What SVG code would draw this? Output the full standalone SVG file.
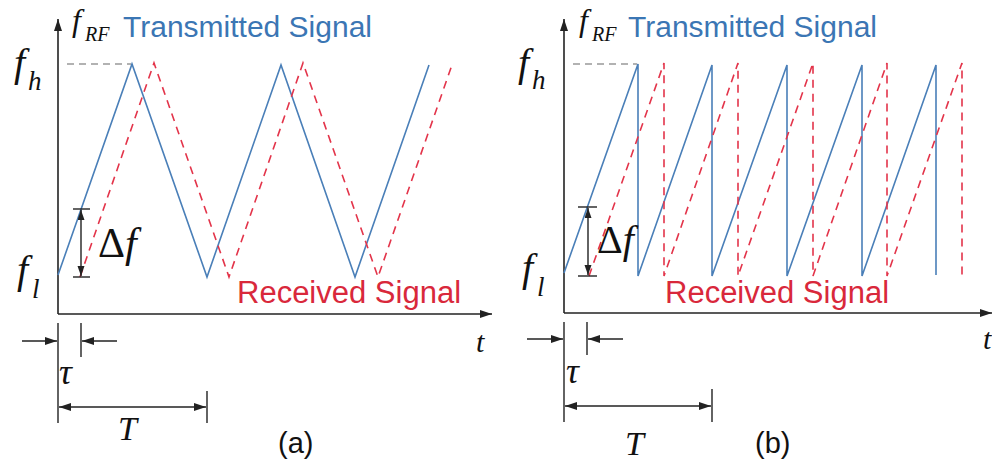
<svg xmlns="http://www.w3.org/2000/svg" width="992" height="463" viewBox="0 0 992 463">
<defs>
<marker id="ah" markerUnits="userSpaceOnUse" markerWidth="13" markerHeight="9" refX="12" refY="4" orient="auto-start-reverse"><path d="M0,0 L12,4 L0,8 z" fill="#222"/></marker>
<marker id="ahs" markerUnits="userSpaceOnUse" markerWidth="11" markerHeight="8" refX="10" refY="3.5" orient="auto-start-reverse"><path d="M0,0 L10,3.5 L0,7 z" fill="#222"/></marker>
<style>
.ax{stroke:#222;stroke-width:1.6;fill:none}
.dim{stroke:#222;stroke-width:1.4;fill:none}
.tx{stroke:#4a7fb8;stroke-width:1.6;fill:none;stroke-linejoin:miter}
.rx{stroke:#e3344a;stroke-width:1.6;fill:none;stroke-dasharray:8 6}
.gd{stroke:#999;stroke-width:1.4;fill:none;stroke-dasharray:7 5}
.m{font-family:"Liberation Serif","Times New Roman",serif;font-style:italic;fill:#111}
.up{font-family:"Liberation Serif","Times New Roman",serif;fill:#111}
.s{font-family:"Liberation Sans",Arial,sans-serif}
.blue{fill:#3b76b4}
.red{fill:#d9283b}
</style>
</defs>
<rect width="992" height="463" fill="#fff"/>

<g id="panel-a">
 <g id="a-axes">
  <line class="ax" x1="58" y1="314" x2="58" y2="19" marker-end="url(#ah)"/>
  <line class="ax" x1="58" y1="314" x2="492" y2="314" marker-end="url(#ah)"/>
  <line class="gd" x1="67" y1="64" x2="131" y2="64"/>
 </g>
 <g id="a-signals">
  <polyline class="tx" points="58,275 132,64 207,277 281,65 355,277 429,65"/>
  <polyline class="rx" points="80,277 154,63 229,277 303,63 378,277 453,62"/>
 </g>
 <g id="a-dims">
  <line class="dim" x1="73" y1="209" x2="90" y2="209"/>
  <line class="dim" x1="73" y1="277" x2="90" y2="277"/>
  <line class="dim" x1="81" y1="210" x2="81" y2="276" marker-start="url(#ahs)" marker-end="url(#ahs)"/>
  <line class="dim" x1="22" y1="341" x2="57" y2="341" marker-end="url(#ah)"/>
  <line class="dim" x1="117" y1="341" x2="82" y2="341" marker-end="url(#ah)"/>
  <line class="dim" x1="58" y1="323" x2="58" y2="423"/>
  <line class="dim" x1="81" y1="323" x2="81" y2="357"/>
  <line class="dim" x1="207" y1="391" x2="207" y2="423"/>
  <line class="dim" x1="59" y1="407" x2="206" y2="407" marker-start="url(#ah)" marker-end="url(#ah)"/>
 </g>
 <g id="a-labels">
  <text class="m" x="72" y="31" font-size="32">f</text>
  <text class="m" x="85" y="41" font-size="20">RF</text>
  <text class="s blue" x="123" y="37" font-size="30">Transmitted Signal</text>
  <text class="m" x="14" y="76" font-size="40">f</text>
  <text class="m" x="28" y="90" font-size="27">h</text>
  <text class="m" x="17" y="283" font-size="40">f</text>
  <text class="m" x="32" y="298" font-size="27">l</text>
  <text class="up" x="98" y="257" font-size="42">Δ<tspan font-style="italic">f</tspan></text>
  <text class="s red" x="237" y="303" font-size="31">Received Signal</text>
  <text class="m" x="476" y="352" font-size="30">t</text>
  <text class="m" x="59" y="384" font-size="36">τ</text>
  <text class="m" x="118" y="440" font-size="34">T</text>
  <text class="s" x="278" y="453" font-size="29" fill="#111">(a)</text>
 </g>
</g>

<g id="panel-b">
 <g id="b-axes">
  <line class="ax" x1="564" y1="313" x2="564" y2="19" marker-end="url(#ah)"/>
  <line class="ax" x1="564" y1="313" x2="992" y2="313" marker-end="url(#ah)"/>
  <line class="gd" x1="573" y1="64" x2="637" y2="64"/>
 </g>
 <g id="b-signals">
  <polyline class="tx" points="564,273 638,64 638,276 712,65 712,276 787,65 787,276 862,65 862,276 936,65 936,275"/>
  <polyline class="rx" points="589,276 664,63 664,276 738,63 738,276 813,63 813,276 887,63 887,276 962,63 962,276"/>
 </g>
 <g id="b-dims">
  <line class="dim" x1="578" y1="207" x2="597" y2="207"/>
  <line class="dim" x1="578" y1="276" x2="597" y2="276"/>
  <line class="dim" x1="588" y1="208" x2="588" y2="275" marker-start="url(#ahs)" marker-end="url(#ahs)"/>
  <line class="dim" x1="527" y1="339" x2="563" y2="339" marker-end="url(#ah)"/>
  <line class="dim" x1="623" y1="339" x2="588" y2="339" marker-end="url(#ah)"/>
  <line class="dim" x1="564" y1="322" x2="564" y2="422"/>
  <line class="dim" x1="587" y1="322" x2="587" y2="355"/>
  <line class="dim" x1="712" y1="389" x2="712" y2="422"/>
  <line class="dim" x1="565" y1="406" x2="711" y2="406" marker-start="url(#ah)" marker-end="url(#ah)"/>
 </g>
 <g id="b-labels">
  <text class="m" x="579" y="31" font-size="32">f</text>
  <text class="m" x="592" y="41" font-size="20">RF</text>
  <text class="s blue" x="628" y="37" font-size="30">Transmitted Signal</text>
  <text class="m" x="518" y="76" font-size="40">f</text>
  <text class="m" x="532" y="89" font-size="27">h</text>
  <text class="m" x="522" y="281" font-size="40">f</text>
  <text class="m" x="537" y="296" font-size="27">l</text>
  <text class="up" x="597" y="253" font-size="40">Δ<tspan font-style="italic">f</tspan></text>
  <text class="s red" x="665" y="303" font-size="31">Received Signal</text>
  <text class="m" x="983" y="349" font-size="30">t</text>
  <text class="m" x="566" y="383" font-size="36">τ</text>
  <text class="m" x="625" y="455" font-size="34">T</text>
  <text class="s" x="755" y="453" font-size="29" fill="#111">(b)</text>
 </g>
</g>
</svg>
